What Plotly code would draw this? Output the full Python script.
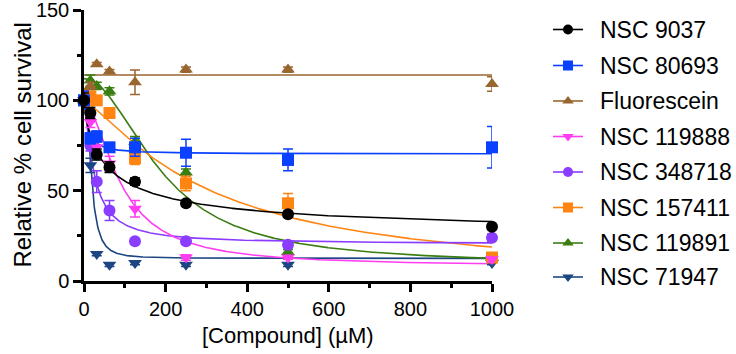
import numpy as np
import plotly.graph_objects as go

# ---- data ----
conc = [0, 15.625, 31.25, 62.5, 125, 250, 500, 1000]
names = ["NSC 9037", "NSC 80693", "Fluorescein", "NSC 119888",
         "NSC 348718", "NSC 157411", "NSC 119891", "NSC 71947"]

nsc9037 = [100, 93, 70, 63, 55, 43, 37, 30]
nsc9037_err = [4, 3, 3, 3, 2, 1.5, 1.5, 1.5]
nsc80693 = [100, 79, 80, 74, 74, 71, 67, 74]
nsc80693_err = [5, 3, 3, 2, 5, 7.5, 6, 11.5]
fluorescein = [100, 108, 120, 116, 110, 117, 117, 109]
fluorescein_err = [6, 2, 1, 1, 6.8, 1.5, 1.5, 4]
nsc119888 = [100, 88, 74, 65, 40, 13, 13, 12]
nsc119888_err = [5, 3, 3, 4, 4.6, 1.5, 1, 1.5]
nsc348718 = [100, 75, 55, 39, 22, 22, 20, 24]
nsc348718_err = [5, 3, 6, 5.5, 1.5, 1.5, 1.5, 2]
nsc157411 = [100, 102, 100, 93, 68, 54, 43, 13]
nsc157411_err = [5, 3, 2, 2, 3.5, 4, 5.5, 2]
nsc119891 = [100, 111, 108, 105, 77, 60, 16, 13]
nsc119891_err = [5, 3, 2, 2, 3, 2, 1.5, 1.5]
nsc71947 = [100, 64, 15, 9, 10, 9, 9, 10]
nsc71947_err = [5, 4, 1, 1, 1, 1, 1, 1]

values = [nsc9037, nsc80693, fluorescein, nsc119888, nsc348718, nsc157411, nsc119891, nsc71947]
errors = [nsc9037_err, nsc80693_err, fluorescein_err, nsc119888_err, nsc348718_err,
          nsc157411_err, nsc119891_err, nsc71947_err]

# fitted curve parameters (variable-slope inhibitor model)
fit_top = [100, 100, 114, 100, 100, 100, 112, 100]
fit_bottom = [25, 70.3, 114, 8, 20.5, 0, 9, 12.5]
fit_ic50 = [60, 10, 100, 90, 24, 310, 190, 18.4]
fit_hill = [0.76, 1.2, 1, 1.7, 1.3, 1.25, 2.0, 2.3]

colors = ["#000000", "#0a40ff", "#9a6630", "#ff3cf0", "#8a3cff", "#ff8412", "#3a7d10", "#1c4682"]
symbols = ["circle", "square", "triangle-up", "triangle-down", "circle", "square", "triangle-up", "triangle-down"]

FONT = "Arial, Liberation Sans, sans-serif"

# layout geometry (pixels)
W, H = 736, 354
ML, MT, MB = 84, 10, 73
PLOT_RIGHT = 492
LEG_LEFT = 548
leg_rows = [29.5, 65.5, 101, 136.5, 172, 207.5, 243, 277]

fig = go.Figure()
xf = np.linspace(0, 1000, 801)
order = list(range(len(names)))[::-1]

for i in order:
    yf = fit_bottom[i] + (fit_top[i] - fit_bottom[i]) / (1 + (xf / fit_ic50[i]) ** fit_hill[i])
    fig.add_trace(go.Scatter(x=xf, y=yf, mode="lines", line=dict(color=colors[i], width=1.6),
                             showlegend=False, hoverinfo="skip", cliponaxis=False))
for i in order:
    fig.add_trace(go.Scatter(
        x=conc, y=values[i], mode="markers",
        marker=dict(symbol=symbols[i], size=12, color=colors[i], line=dict(width=0)),
        error_y=dict(type="data", array=errors[i], visible=True, color=colors[i], thickness=1.5, width=5),
        showlegend=False, cliponaxis=False))

# hand-built legend on a pixel-scaled helper axis
annotations = []
for i, nm in enumerate(names):
    ry = leg_rows[i]
    fig.add_trace(go.Scatter(x=[LEG_LEFT + 5, LEG_LEFT + 35], y=[ry, ry], mode="lines",
                             line=dict(color=colors[i], width=1.6), xaxis="x2", yaxis="y2",
                             showlegend=False, hoverinfo="skip", cliponaxis=False))
    fig.add_trace(go.Scatter(x=[LEG_LEFT + 20], y=[ry], mode="markers",
                             marker=dict(symbol=symbols[i], size=10, color=colors[i], line=dict(width=0)),
                             xaxis="x2", yaxis="y2", showlegend=False, hoverinfo="skip",
                             cliponaxis=False))
    annotations.append(dict(text=nm, xref="x2", yref="y2", x=LEG_LEFT + 50, y=ry,
                            xanchor="left", yanchor="middle", showarrow=False,
                            font=dict(family=FONT, size=23, color="black")))

annotations += [
    dict(text="[Compound] (µM)", xref="paper", yref="paper", x=(288 - ML) / (W - ML), y=-0.2,
         xanchor="center", yanchor="middle", showarrow=False,
         font=dict(family=FONT, size=22, color="black")),
    dict(text="Relative % cell survival", xref="paper", yref="paper", x=(22 - ML) / (W - ML), y=0.5,
         xanchor="center", yanchor="middle", textangle=-90, showarrow=False,
         font=dict(family=FONT, size=24, color="black")),
]

axis_common = dict(showline=True, linecolor="black", linewidth=2.5, ticks="outside",
                   tickwidth=2.5, ticklen=8, tickcolor="black", showgrid=False, zeroline=False,
                   automargin=False, ticklabeloverflow="allow",
                   tickfont=dict(family=FONT, size=20, color="black"))

fig.update_layout(
    width=W, height=H,
    margin=dict(l=ML, r=0, t=MT, b=MB),
    plot_bgcolor="rgba(0,0,0,0)", paper_bgcolor="white",
    font=dict(family=FONT, color="black"),
    xaxis=dict(range=[0, 1000], tickvals=[0, 200, 400, 600, 800, 1000],
               domain=[0, (PLOT_RIGHT - ML) / (W - ML)],
               minor=dict(tickvals=[100, 300, 500, 700, 900], ticks="outside", ticklen=4,
                          tickwidth=2.5, tickcolor="black"),
               **axis_common),
    yaxis=dict(range=[0, 150.0001], tickvals=[0, 50, 100, 150],
               minor=dict(tickvals=[25, 75, 125], ticks="outside", ticklen=4,
                          tickwidth=2.5, tickcolor="black"),
               **axis_common),
    xaxis2=dict(domain=[(LEG_LEFT - ML) / (W - ML), 1], range=[LEG_LEFT, W], visible=False,
                anchor="y2", fixedrange=True),
    yaxis2=dict(domain=[0, 1], range=[H - MB, MT], visible=False, anchor="x2", fixedrange=True),
    showlegend=False,
    annotations=annotations,
)

fig.write_html("out.html", config={"displayModeBar": False},
               post_script="document.body.style.margin='0';document.body.style.overflow='hidden';")
